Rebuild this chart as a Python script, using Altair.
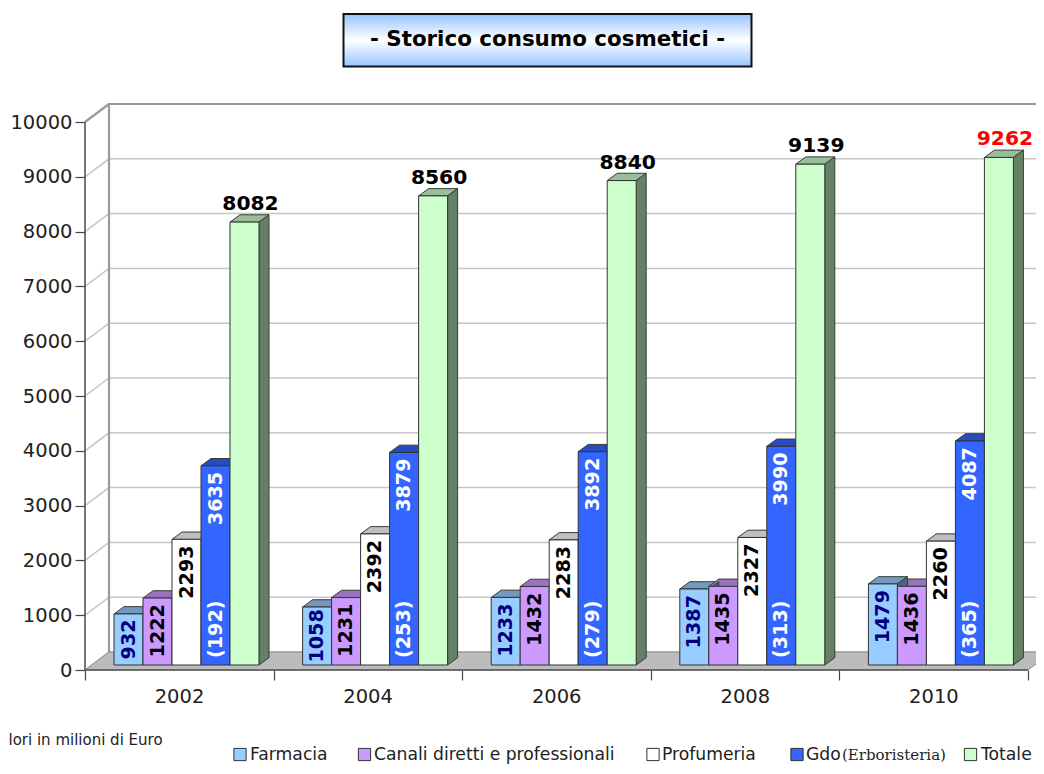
import altair as alt
import pandas as pd

years = ["2002", "2004", "2006", "2008", "2010"]
series = ["Farmacia", "Canali diretti e professionali", "Profumeria", "Gdo", "Totale"]
farmacia = [932, 1058, 1233, 1387, 1479]
canali = [1222, 1231, 1432, 1435, 1436]
profumeria = [2293, 2392, 2283, 2327, 2260]
gdo = [3635, 3879, 3892, 3990, 4087]
erboristeria = [192, 253, 279, 313, 365]
totale = [8082, 8560, 8840, 9139, 9262]
values = [farmacia, canali, profumeria, gdo, totale]
fronts = ["#99ccff", "#cc99ff", "#ffffff", "#3366ff", "#ccffcc"]
tops = ["#7399bf", "#9973bf", "#bfbfbf", "#264cbf", "#99bf99"]
sides = ["#4d6680", "#664d80", "#808080", "#1a3380", "#668066"]
label_colors = ["#000080", "#000000", "#000000", "#ffffff"]
y_ticks = list(range(0, 10001, 1000))

FONT = "DejaVu Sans"
W, H = 1028, 758
RIGHT, BOTTOM = 8 + W, 8 + H
PX_X = 188.6          # pixels per category step
PX_Y = 0.0548         # pixels per value unit


def ux(px):
    return (px - 85) / PX_X


def uy(px):
    return (670 - px) / PX_Y


xscale = alt.Scale(domain=[ux(8), ux(RIGHT)], nice=False, zero=False)
yscale = alt.Scale(domain=[uy(BOTTOM), uy(8)], nice=False, zero=False)

xaxis = alt.Axis(
    values=list(range(6)), grid=False, domain=False, tickSize=10, tickWidth=1.2, tickColor="#444444",
    offset=-(BOTTOM - 670), title=None,
    labelExpr="['2002','2004','2006','2008','2010',''][datum.value]",
    labelOffset=94, labelPadding=7, labelFont=FONT, labelFontSize=19.5, labelColor="#222222",
    labelOverlap=False, labelBound=False, labelFlush=False, labelAlign="center")
yaxis = alt.Axis(
    values=y_ticks, grid=False, domain=False, tickSize=10, tickWidth=1.2, tickColor="#444444",
    offset=-(85 - 8), title=None, format="d",
    labelPadding=3, labelFont=FONT, labelFontSize=19.5, labelColor="#222222",
    labelOverlap=False, labelBound=False, labelFlush=False)

BX = alt.X("x:Q", scale=xscale, axis=xaxis)
BY = alt.Y("y:Q", scale=yscale, axis=yaxis, stack=None)

# depth of the floor/back wall and of each bar, in scale units
WALL_X, WALL_Y = 24 / PX_X, 18 / PX_Y
BAR_X, BAR_Y = 10 / PX_X, 7.3 / PX_Y
BASE_X, BASE_Y = 29 / PX_X, 5 / PX_Y
BAR_W = 29 / PX_X
DIGIT_PX = 13.4

front_rows, top_rows, side_rows, in_rows, tot_rows, bot_rows = [], [], [], [], [], []
for i, year in enumerate(years):
    for j, vals in enumerate(values):
        v = vals[i]
        xl = i + BASE_X + j * BAR_W
        xr = xl + BAR_W
        top = BASE_Y + v
        front_rows.append({"x": xl, "x2": xr, "y": BASE_Y, "y2": top, "c": fronts[j]})
        pid = f"{i}-{j}"
        for x, y, y2 in [
            (xl, top, top),
            (xl + BAR_X, top + BAR_Y, top),
            (xr, top + BAR_Y, top),
            (xr + BAR_X, top + BAR_Y, top + BAR_Y),
        ]:
            top_rows.append({"x": x, "y": y, "y2": y2, "c": tops[j], "p": pid})
        for x, y, y2 in [
            (xr, top, BASE_Y),
            (xr + BAR_X, top + BAR_Y, BASE_Y + BAR_Y),
        ]:
            side_rows.append({"x": x, "y": y, "y2": y2, "c": sides[j], "p": pid})
        if j < 4:
            gap = min(6, (v * PX_Y - DIGIT_PX * len(str(v))) / 2)
            in_rows.append({"x": (xl + xr) / 2, "y": top - gap / PX_Y, "t": str(v), "c": label_colors[j]})
        else:
            tot_rows.append({"x": (xl + xr) / 2 + 6 / PX_X, "y": top + 12 / PX_Y, "t": str(v),
                             "c": "#ff0000" if year == "2010" else "#000000"})
    xl = i + BASE_X + 3 * BAR_W
    bot_rows.append({"x": xl + BAR_W / 2, "y": BASE_Y + 7 / PX_Y, "t": f"({erboristeria[i]})", "c": "#ffffff"})

floor_rows = [
    {"x": 0, "y": 0, "y2": 0},
    {"x": WALL_X, "y": WALL_Y, "y2": 0},
    {"x": 5, "y": WALL_Y, "y2": 0},
    {"x": 5 + WALL_X, "y": WALL_Y, "y2": WALL_Y},
]

grid_rows = []
for t in y_ticks:
    wt = t + WALL_Y
    grid_rows += [
        {"x": 0, "y": t, "g": t, "o": 0},
        {"x": WALL_X, "y": wt, "g": t, "o": 1},
        {"x": ux(RIGHT), "y": wt, "g": t, "o": 2},
    ]

grid = alt.Chart(pd.DataFrame(grid_rows)).mark_line(color="#c6c6c6", strokeWidth=1.5).encode(
    x=BX, y=BY, detail="g:N", order="o:Q")

wall_rows = [
    {"x": WALL_X, "y": WALL_Y, "o": 0},
    {"x": WALL_X, "y": 10000 + WALL_Y, "o": 1},
    {"x": ux(RIGHT), "y": 10000 + WALL_Y, "o": 2},
]
wall = alt.Chart(pd.DataFrame(wall_rows)).mark_line(color="#9a9a9a", strokeWidth=2.2).encode(
    x=BX, y=BY, order="o:Q")
wall_corner = alt.Chart(pd.DataFrame([
    {"x": 0, "y": 10000, "o": 0}, {"x": WALL_X, "y": 10000 + WALL_Y, "o": 1}
])).mark_line(color="#9a9a9a", strokeWidth=2.2).encode(x=BX, y=BY, order="o:Q")

floor = alt.Chart(pd.DataFrame(floor_rows)).mark_area(
    color="#bcbcbc", stroke="#8c8c8c", strokeWidth=1, interpolate="linear"
).encode(x=BX, y=BY, y2="y2:Q")


def poly(rows):
    return alt.Chart(pd.DataFrame(rows)).mark_area(
        stroke="#3a3a3a", strokeWidth=1, interpolate="linear"
    ).encode(x=BX, y=BY, y2="y2:Q", fill=alt.Fill("c:N", scale=None), detail="p:N")


top_faces = poly(top_rows)
side_faces = poly(side_rows)

front_faces = alt.Chart(pd.DataFrame(front_rows)).mark_rect(stroke="#333333", strokeWidth=1).encode(
    x=BX, x2="x2:Q", y=BY, y2="y2:Q", fill=alt.Fill("c:N", scale=None))


def texts(rows, **kw):
    return alt.Chart(pd.DataFrame(rows)).mark_text(font=FONT, fontWeight="bold", **kw).encode(
        x=BX, y=BY, text="t:N", color=alt.Color("c:N", scale=None))


in_labels = texts(in_rows, angle=270, align="right", baseline="middle", fontSize=19.2)
bot_labels = texts(bot_rows, angle=270, align="left", baseline="middle", fontSize=19.2)
tot_labels = texts(tot_rows, align="center", baseline="alphabetic", fontSize=20.3)

axis_lines = alt.Chart(pd.DataFrame([
    {"x": 0, "x2": 0, "y": 0, "y2": 10000},
    {"x": 0, "x2": 5, "y": 0, "y2": 0},
])).mark_rule(color="#555555", strokeWidth=1.6).encode(x=BX, x2="x2:Q", y=BY, y2="y2:Q")

# title box
box = alt.Chart(pd.DataFrame([{"x": ux(343.5), "x2": ux(751.5), "y": uy(66.5), "y2": uy(14)}])).mark_rect(
    stroke="#111111", strokeWidth=2,
    fill=alt.Gradient(gradient="linear", x1=0, x2=0, y1=0, y2=1, stops=[
        alt.GradientStop(offset=0, color="#99c4ff"),
        alt.GradientStop(offset=0.5, color="#ffffff"),
        alt.GradientStop(offset=1, color="#99c4ff"),
    ])
).encode(x=BX, x2="x2:Q", y=BY, y2="y2:Q")
title = alt.Chart(pd.DataFrame([{"x": ux(547.5), "y": uy(45.5), "t": "- Storico consumo cosmetici -"}])).mark_text(
    font=FONT, fontWeight="bold", fontSize=21.4, color="#000000", align="center", baseline="alphabetic"
).encode(x=BX, y=BY, text="t:N")

# footnote, as far as the reference shows it
note = alt.Chart(pd.DataFrame([{"x": ux(8.5), "y": uy(745), "t": "lori in milioni di Euro"}])).mark_text(
    font=FONT, fontSize=15, color="#222222", align="left", baseline="alphabetic"
).encode(x=BX, y=BY, text="t:N")

# legend
legend_sq = alt.Chart(pd.DataFrame({
    "x": [ux(p) for p in (240, 364.5, 653, 797, 970.5)],
    "y": [uy(754.5)] * 5,
    "c": fronts,
})).mark_point(shape="square", size=150, filled=True, stroke="#333333", strokeWidth=1, opacity=1).encode(
    x=BX, y=BY, fill=alt.Fill("c:N", scale=None))
legend_tx = alt.Chart(pd.DataFrame({
    "x": [ux(p) for p in (250, 374, 662, 806, 981)],
    "y": [uy(760)] * 5,
    "t": ["Farmacia", "Canali diretti e professionali", "Profumeria", "Gdo", "Totale"],
})).mark_text(font=FONT, fontSize=17.2, color="#222222", align="left", baseline="alphabetic").encode(
    x=BX, y=BY, text="t:N")
legend_er = alt.Chart(pd.DataFrame([{"x": ux(842), "y": uy(760), "t": "(Erboristeria)"}])).mark_text(
    font="DejaVu Serif", fontSize=15, color="#222222", align="left", baseline="alphabetic"
).encode(x=BX, y=BY, text="t:N")

chart = alt.layer(
    grid, wall, wall_corner, floor, top_faces, side_faces, front_faces,
    in_labels, bot_labels, tot_labels, axis_lines, box, title, note, legend_sq, legend_tx, legend_er,
).properties(
    width=W, height=H, padding=0, autosize=alt.AutoSizeParams(type="none"),
).configure_view(stroke=None)

chart.save("out.html", embed_options={"renderer": "svg", "actions": False})
